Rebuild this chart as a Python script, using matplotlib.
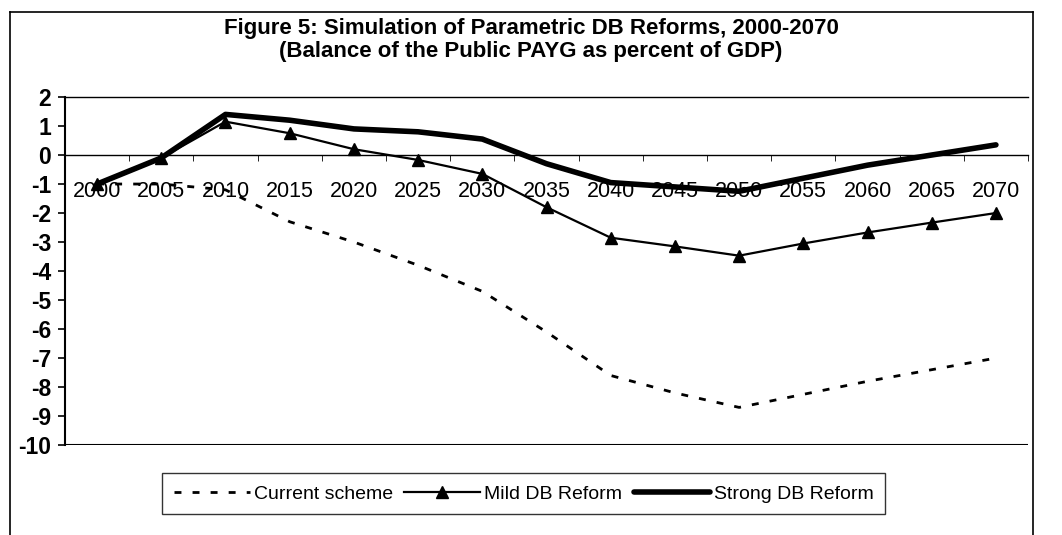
#parametric DB reform simulation chart

import numpy as np
import matplotlib
matplotlib.use("Agg")
import matplotlib.pyplot as plt
from matplotlib.lines import Line2D

years = ["2000", "2005", "2010", "2015", "2020", "2025", "2030", "2035",
         "2040", "2045", "2050", "2055", "2060", "2065", "2070"]

current_scheme = [-1.0, -1.0, -1.2, -2.3, -3.0, -3.8, -4.7, -6.1,
                  -7.6, -8.2, -8.7, -8.25, -7.8, -7.4, -7.0]
mild_reform = [-1.0, -0.1, 1.15, 0.75, 0.2, -0.17, -0.65, -1.8,
               -2.85, -3.15, -3.47, -3.05, -2.67, -2.33, -2.0]
strong_reform = [-1.0, -0.1, 1.4, 1.2, 0.9, 0.8, 0.55, -0.3,
                 -0.95, -1.1, -1.25, -0.8, -0.35, 0.0, 0.35]

yticks = list(range(-10, 3))

plt.rcParams["font.family"] = ["Liberation Sans", "DejaVu Sans"]
plt.rcParams["font.weight"] = "bold"

fig = plt.figure(figsize=(10.62, 5.35), dpi=100)
ax = fig.add_axes([0.0612, 0.168, 0.9068, 0.6507])

x = np.arange(len(years))

ax.plot(x, current_scheme, color="black", lw=2, linestyle=(0, (2.5, 4)),
        label="Current scheme")
ax.plot(x, mild_reform, color="black", lw=1.6, marker="^", markersize=8.5,
        label="Mild DB Reform")
ax.plot(x, strong_reform, color="black", lw=4, solid_capstyle="round",
        label="Strong DB Reform")

ax.set_xlim(-0.5, len(years) - 0.5)
ax.set_ylim(-10, 2)

# category axis crosses at zero, excel style
ax.spines["bottom"].set_position(("data", 0))
ax.spines["bottom"].set_linewidth(1.0)
ax.axhline(-10, color="black", lw=1.5)
ax.spines["top"].set_linewidth(1.0)
ax.spines["right"].set_visible(False)
ax.spines["left"].set_linewidth(1.5)

ax.set_xticks(x)
ax.set_xticklabels(years, fontsize=15.5, fontweight="normal")
ax.set_xticks(np.arange(-0.5, len(years)), minor=True)
ax.tick_params(axis="x", which="major", length=0, pad=19)
ax.tick_params(axis="x", which="minor", length=4, direction="out")

ax.set_yticks(yticks)
ax.set_yticklabels([str(v) for v in yticks], fontsize=16.5, fontweight="bold")
ax.tick_params(axis="y", length=5, direction="out", width=1.2, pad=5)

fig.text(0.500, 0.946, "Figure 5: Simulation of Parametric DB Reforms, 2000-2070",
         ha="center", va="center", fontsize=16, fontweight="bold")
fig.text(0.500, 0.904, "(Balance of the Public PAYG as percent of GDP)",
         ha="center", va="center", fontsize=16, fontweight="bold")

leg = fig.legend(loc="center", bbox_to_anchor=(0.493, 0.077), ncol=3,
                 frameon=True, fancybox=False, handlelength=3.9,
                 handletextpad=0.2, columnspacing=0.6, borderpad=0.6,
                 borderaxespad=0.2, prop={"size": 14, "weight": "normal"})
leg.get_frame().set_edgecolor("black")
leg.get_frame().set_linewidth(1.0)

# outer chart frame
for xs, ys in [([0.0094, 0.0094], [-0.01, 0.978]),
               ([0.0094, 0.9727], [0.978, 0.978]),
               ([0.9727, 0.9727], [0.978, -0.01])]:
    fig.add_artist(Line2D(xs, ys, transform=fig.transFigure, color="black", lw=1.2))

fig.savefig("out.png", dpi=100)
